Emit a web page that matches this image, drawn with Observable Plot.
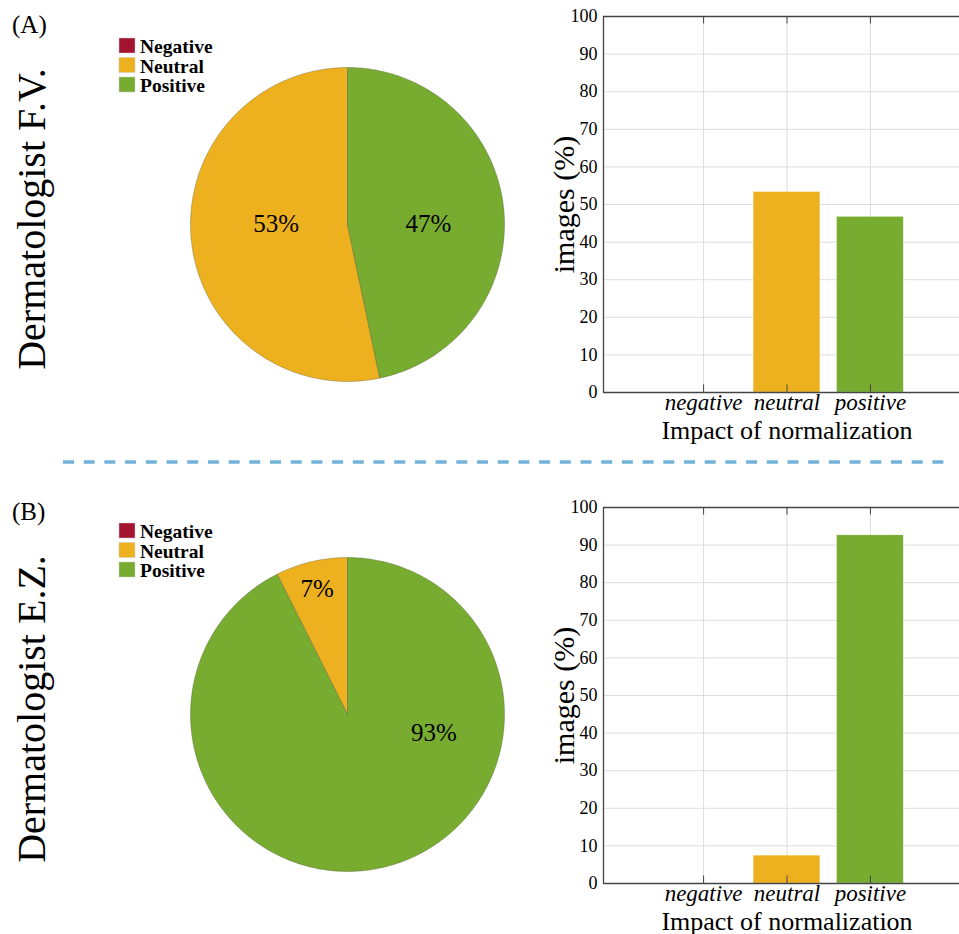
<!DOCTYPE html>
<html><head><meta charset="utf-8">
<script src="https://cdn.jsdelivr.net/npm/d3@7"></script>
<script src="https://cdn.jsdelivr.net/npm/@observablehq/plot@0.6"></script>
<style>
html,body{margin:0;padding:0;background:#fff;overflow:hidden}
#root{position:relative;width:959px;height:934px;overflow:hidden;background:#fff}
.panel{position:absolute}
.panel svg{overflow:visible;max-width:none !important;height:auto}
</style></head><body><div id="root"></div>
<script>
// ---- data ----
const categories = ["negative", "neutral", "positive"];
const legendLabels = ["Negative", "Neutral", "Positive"];
const colors = ["#A2142F", "#EDB120", "#77AC30"];
const valuesFV = [0, 53.3, 46.7];
const valuesEZ = [0, 7.4, 92.6];
const rowTitles = ["Dermatologist F.V.", "Dermatologist E.Z."];
const panelTags = ["(A)", "(B)"];
const yTicks = [0, 10, 20, 30, 40, 50, 60, 70, 80, 90, 100];
const xLabel = "Impact of normalization";
const yLabel = "images (%)";

// ---- layout (kept apart from data) ----
const FONT = "'Liberation Serif', serif";
const rows = [
  {values: valuesFV, top: 0, pieTop: 64, barTop: 0, legendTop: 0, labelPos: [null, [-0.455, 0.006], [0.516, 0.006]]},
  {values: valuesEZ, top: 490, pieTop: 554, barTop: 491, legendTop: 485, labelPos: [null, [-0.193, 0.80], [0.55, -0.115]]}
];

const root = document.getElementById("root");
function place(node, left, top, w, h) {
  const d = document.createElement("div");
  d.className = "panel";
  d.style.left = left + "px";
  d.style.top = top + "px";
  d.style.width = w + "px";
  d.style.height = h + "px";
  node.setAttribute("font-family", FONT);
  node.style.fontFamily = FONT;
  d3.select(node).selectAll("text, g").style("font-family", FONT);
  d.appendChild(node);
  root.appendChild(d);
}

function sliceRows(values) {
  const total = d3.sum(values);
  let acc = 0;
  const out = [];
  values.forEach((v, i) => {
    if (v <= 0) return;
    const a0 = acc / total * 2 * Math.PI, a1 = (acc + v) / total * 2 * Math.PI;
    acc += v;
    const n = Math.max(4, Math.ceil((a1 - a0) / (Math.PI / 360)));
    const pts = [{slice: i, px: 0, py: 0}];
    for (let k = 0; k <= n; k++) {
      const a = a0 + (a1 - a0) * k / n;
      pts.push({slice: i, px: -Math.sin(a), py: Math.cos(a)});
    }
    pts.push({slice: i, px: 0, py: 0});
    out.push(pts);
  });
  return out;
}

function piePlot(row) {
  const total = d3.sum(row.values);
  const slices = sliceRows(row.values);
  const labels = row.values.map((v, i) => ({v, i})).filter(d => d.v > 0)
    .map(d => ({text: Math.round(d.v / total * 100) + "%", lx: row.labelPos[d.i][0], ly: row.labelPos[d.i][1]}));
  return Plot.plot({
    width: 320, height: 320, margin: 3,
    x: {domain: [-1, 1], axis: null},
    y: {domain: [-1, 1], axis: null},
    style: {background: "transparent"},
    marks: [
      ...slices.map(pts => Plot.line(pts, {
        x: "px", y: "py", fill: colors[pts[0].slice], stroke: "#4a4a30",
        strokeWidth: 0.6, strokeOpacity: 0.55, strokeLinejoin: "miter", curve: "linear"
      })),
      Plot.text(labels, {x: "lx", y: "ly", text: "text", fontSize: 25, fill: "#000"})
    ]
  });
}

function barPlot(row) {
  const data = categories.map((c, i) => ({cat: c, pos: i + 1, value: row.values[i]}));
  return Plot.plot({
    width: 430, height: 460, marginLeft: 63, marginRight: 0, marginTop: 16, marginBottom: 68,
    x: {domain: [-0.2, 4.2], axis: null},
    y: {domain: [0, 100], axis: null},
    color: {domain: categories, range: colors},
    style: {background: "transparent", color: "#000"},
    marks: [
      Plot.ruleY(yTicks, {stroke: "#dedede", strokeWidth: 1}),
      Plot.ruleX(data, {x: "pos", stroke: "#dedede", strokeWidth: 1}),
      Plot.rect(data.filter(d => d.value > 0), {
        x1: d => d.pos - 0.4, x2: d => d.pos + 0.4, y1: 0, y2: "value",
        fill: "cat", stroke: "#ffffff", strokeOpacity: 0.35, strokeWidth: 0.8
      }),
      Plot.ruleX(data, {x: "pos", y1: 0, y2: 2, stroke: "#444", strokeWidth: 1}),
      Plot.ruleX(data, {x: "pos", y1: 98, y2: 100, stroke: "#444", strokeWidth: 1}),
      Plot.ruleX([-0.2], {stroke: "#444", strokeWidth: 1.3}),
      Plot.ruleY([0, 100], {stroke: "#444", strokeWidth: 1.3}),
      Plot.text(yTicks, {x: -0.2, y: d => d, text: d => String(d), textAnchor: "end", dx: -6, fontSize: 18}),
      Plot.text(data, {x: "pos", y: 0, text: "cat", dy: 17, lineAnchor: "bottom", fontStyle: "italic", fontSize: 23}),
      Plot.text([xLabel], {frameAnchor: "bottom", textAnchor: "middle", dy: 46, lineAnchor: "bottom", fontSize: 26}),
      Plot.text([yLabel], {frameAnchor: "left", textAnchor: "middle", dx: -30, rotate: -90, lineAnchor: "bottom", fontSize: 30})
    ]
  });
}

// overlay for panel tags, row titles, legends, separator
const W = 959, H = 934;
const overlay = d3.create("svg").attr("width", W).attr("height", H)
  .style("position", "absolute").style("left", 0).style("top", 0)
  .style("font-family", FONT);

rows.forEach((row, r) => {
  place(piePlot(row), 187, row.pieTop, 320, 320);
  place(barPlot(row), 540, row.barTop, 430, 460);
  overlay.append("text").attr("x", 12).attr("y", row.top + 33 - (r ? 3 : 0))
    .attr("font-size", 25).text(panelTags[r]);
  overlay.append("text")
    .attr("transform", `translate(45,${row.pieTop + 155}) rotate(-90)`)
    .attr("text-anchor", "middle").attr("font-size", 40).text(rowTitles[r]);
  legendLabels.forEach((lab, i) => {
    const y0 = 38 + row.legendTop + i * 19.5;
    overlay.append("rect").attr("x", 119).attr("y", y0).attr("width", 16).attr("height", 15)
      .attr("fill", colors[i]).attr("stroke", "#ccc").attr("stroke-width", 0.5);
    overlay.append("text").attr("x", 140).attr("y", y0 + 15).attr("font-size", 19.5)
      .attr("font-weight", "bold").text(lab);
  });
});
overlay.append("line").attr("x1", 63).attr("x2", 951).attr("y1", 462).attr("y2", 462)
  .attr("stroke", "#72B2DA").attr("stroke-width", 3.5).attr("stroke-dasharray", "11 9.7");
root.appendChild(overlay.node());
</script>
</body></html>
